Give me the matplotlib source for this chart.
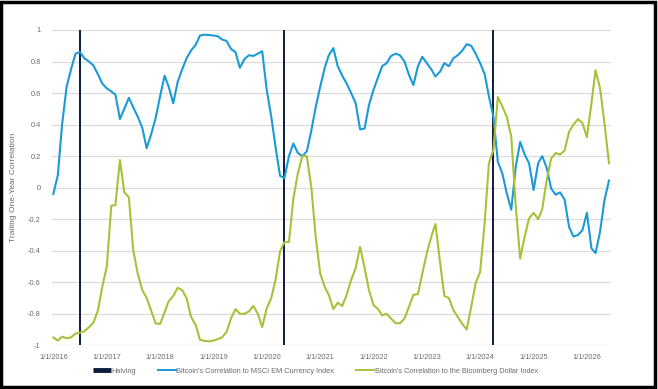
import numpy as np
import pandas as pd
import matplotlib
matplotlib.use("Agg")
import matplotlib.pyplot as plt
import matplotlib.dates as mdates
from matplotlib.lines import Line2D
from matplotlib.patches import Rectangle

plt.rcParams['font.family'] = ['Liberation Sans', 'DejaVu Sans']

# monthly observations, Jan 2016 onwards
start_month = '2016-01-01'

msci_em = [
    -0.04, 0.08, 0.40, 0.64, 0.75, 0.85, 0.86, 0.82, 0.80, 0.775,
    0.72, 0.66, 0.63, 0.61, 0.59, 0.435, 0.50, 0.57, 0.51, 0.45,
    0.38, 0.25, 0.34, 0.44, 0.58, 0.71, 0.64, 0.535, 0.67, 0.75,
    0.82, 0.87, 0.905, 0.965, 0.97, 0.968, 0.965, 0.96, 0.94, 0.93,
    0.88, 0.86, 0.76, 0.815, 0.84, 0.835, 0.85, 0.865, 0.62, 0.45,
    0.26, 0.075, 0.06, 0.20, 0.28, 0.22, 0.20, 0.23, 0.36, 0.51,
    0.64, 0.76, 0.84, 0.885, 0.77, 0.71, 0.66, 0.60, 0.535, 0.37,
    0.375, 0.525, 0.62, 0.70, 0.77, 0.79, 0.835, 0.85, 0.84, 0.80,
    0.715, 0.65, 0.77, 0.83, 0.79, 0.75, 0.705, 0.735, 0.79, 0.77,
    0.82, 0.84, 0.87, 0.91, 0.90, 0.85, 0.79, 0.72, 0.58, 0.45,
    0.165, 0.09, -0.035, -0.14, 0.135, 0.29, 0.21, 0.155, -0.015, 0.155,
    0.20, 0.125, -0.005, -0.045, -0.03, -0.075, -0.25, -0.31, -0.30, -0.27,
    -0.16, -0.385, -0.415, -0.28, -0.08, 0.045,
]

bbg_dollar = [
    -0.95, -0.97, -0.945, -0.955, -0.95, -0.925, -0.92, -0.91, -0.885, -0.857,
    -0.78, -0.63, -0.50, -0.115, -0.11, 0.175, -0.03, -0.06, -0.395, -0.545,
    -0.65, -0.70, -0.78, -0.86, -0.865, -0.79, -0.72, -0.687, -0.635, -0.65,
    -0.70, -0.82, -0.87, -0.965, -0.972, -0.975, -0.97, -0.96, -0.95, -0.915,
    -0.83, -0.77, -0.80, -0.80, -0.785, -0.75, -0.80, -0.885, -0.765, -0.70,
    -0.585, -0.405, -0.345, -0.345, -0.07, 0.09, 0.20, 0.20, 0.005, -0.31,
    -0.545, -0.63, -0.68, -0.77, -0.73, -0.75, -0.68, -0.585, -0.51, -0.375,
    -0.51, -0.65, -0.745, -0.77, -0.81, -0.80, -0.83, -0.86, -0.86, -0.83,
    -0.755, -0.68, -0.675, -0.545, -0.415, -0.31, -0.23, -0.47, -0.687, -0.70,
    -0.775, -0.82, -0.865, -0.90, -0.755, -0.607, -0.533, -0.22, 0.155, 0.24,
    0.575, 0.515, 0.45, 0.325, -0.12, -0.45, -0.31, -0.195, -0.16, -0.20,
    -0.137, 0.05, 0.185, 0.22, 0.21, 0.235, 0.355, 0.40, 0.435, 0.41,
    0.32, 0.535, 0.745, 0.63, 0.41, 0.155,
]

halving_dates = ['2016-07-01', '2020-05-01', '2024-04-01']
tick_years = list(range(2016, 2027))
y_ticks = [1, 0.8, 0.6, 0.4, 0.2, 0, -0.2, -0.4, -0.6, -0.8, -1]

blue = '#1b9ad6'
green = '#a6c23a'
navy = '#0c1a3c'
grey_txt = '#6d6d6d'

dates = pd.date_range(start_month, periods=len(msci_em), freq='MS')

fig = plt.figure(figsize=(6.58, 3.89), dpi=100)
ax = fig.add_axes([0.0786, 0.1123, 0.85, 0.8106])

for yt in y_ticks:
    ax.axhline(yt, color='#dcdcdc', lw=0.9, zorder=0)

for d in halving_dates:
    ax.axvline(pd.Timestamp(d), color=navy, lw=1.4, zorder=3)

ax.plot(dates, msci_em, color=blue, lw=1.5, zorder=4)
ax.plot(dates, bbg_dollar, color=green, lw=1.5, zorder=4)

ax.set_ylim(-1, 1)
ax.set_xlim(pd.Timestamp('2015-12-21'), pd.Timestamp('2026-06-15'))
ax.set_yticks(y_ticks)
ax.set_yticklabels([('%g' % v) for v in y_ticks])
ax.set_xticks([pd.Timestamp('%d-01-01' % y) for y in tick_years])
ax.set_xticklabels(['1/1/%d' % y for y in tick_years])
ax.tick_params(length=0, labelsize=5.3, colors=grey_txt, pad=6)
ax.tick_params(axis='y', pad=8)
for s in ax.spines.values():
    s.set_visible(False)
ax.set_ylabel('Trailing One-Year Correlation', fontsize=6, color=grey_txt, labelpad=8)

handles = [
    Line2D([], [], color=navy, lw=3.5, solid_capstyle='butt'),
    Line2D([], [], color=blue, lw=1.4),
    Line2D([], [], color=green, lw=1.4),
]
labels = ['Halving',
          "Bitcoin's Correlation to MSCI EM Currency Index",
          "Bitcoin's Correlation to the Bloomberg Dollar Index"]
leg = fig.legend(handles, labels, loc='center', bbox_to_anchor=(0.4795, 0.046),
                 ncol=3, frameon=False, fontsize=5.3, handlelength=2.4,
                 handletextpad=0.1, columnspacing=3.0)
for t in leg.get_texts():
    t.set_color(grey_txt)

# black frame around the whole picture
fig.patches.append(Rectangle((0.002, 0.004), 0.994, 0.992, transform=fig.transFigure,
                             fill=False, edgecolor='black', lw=2.5))

fig.savefig('out.png', dpi=100)
